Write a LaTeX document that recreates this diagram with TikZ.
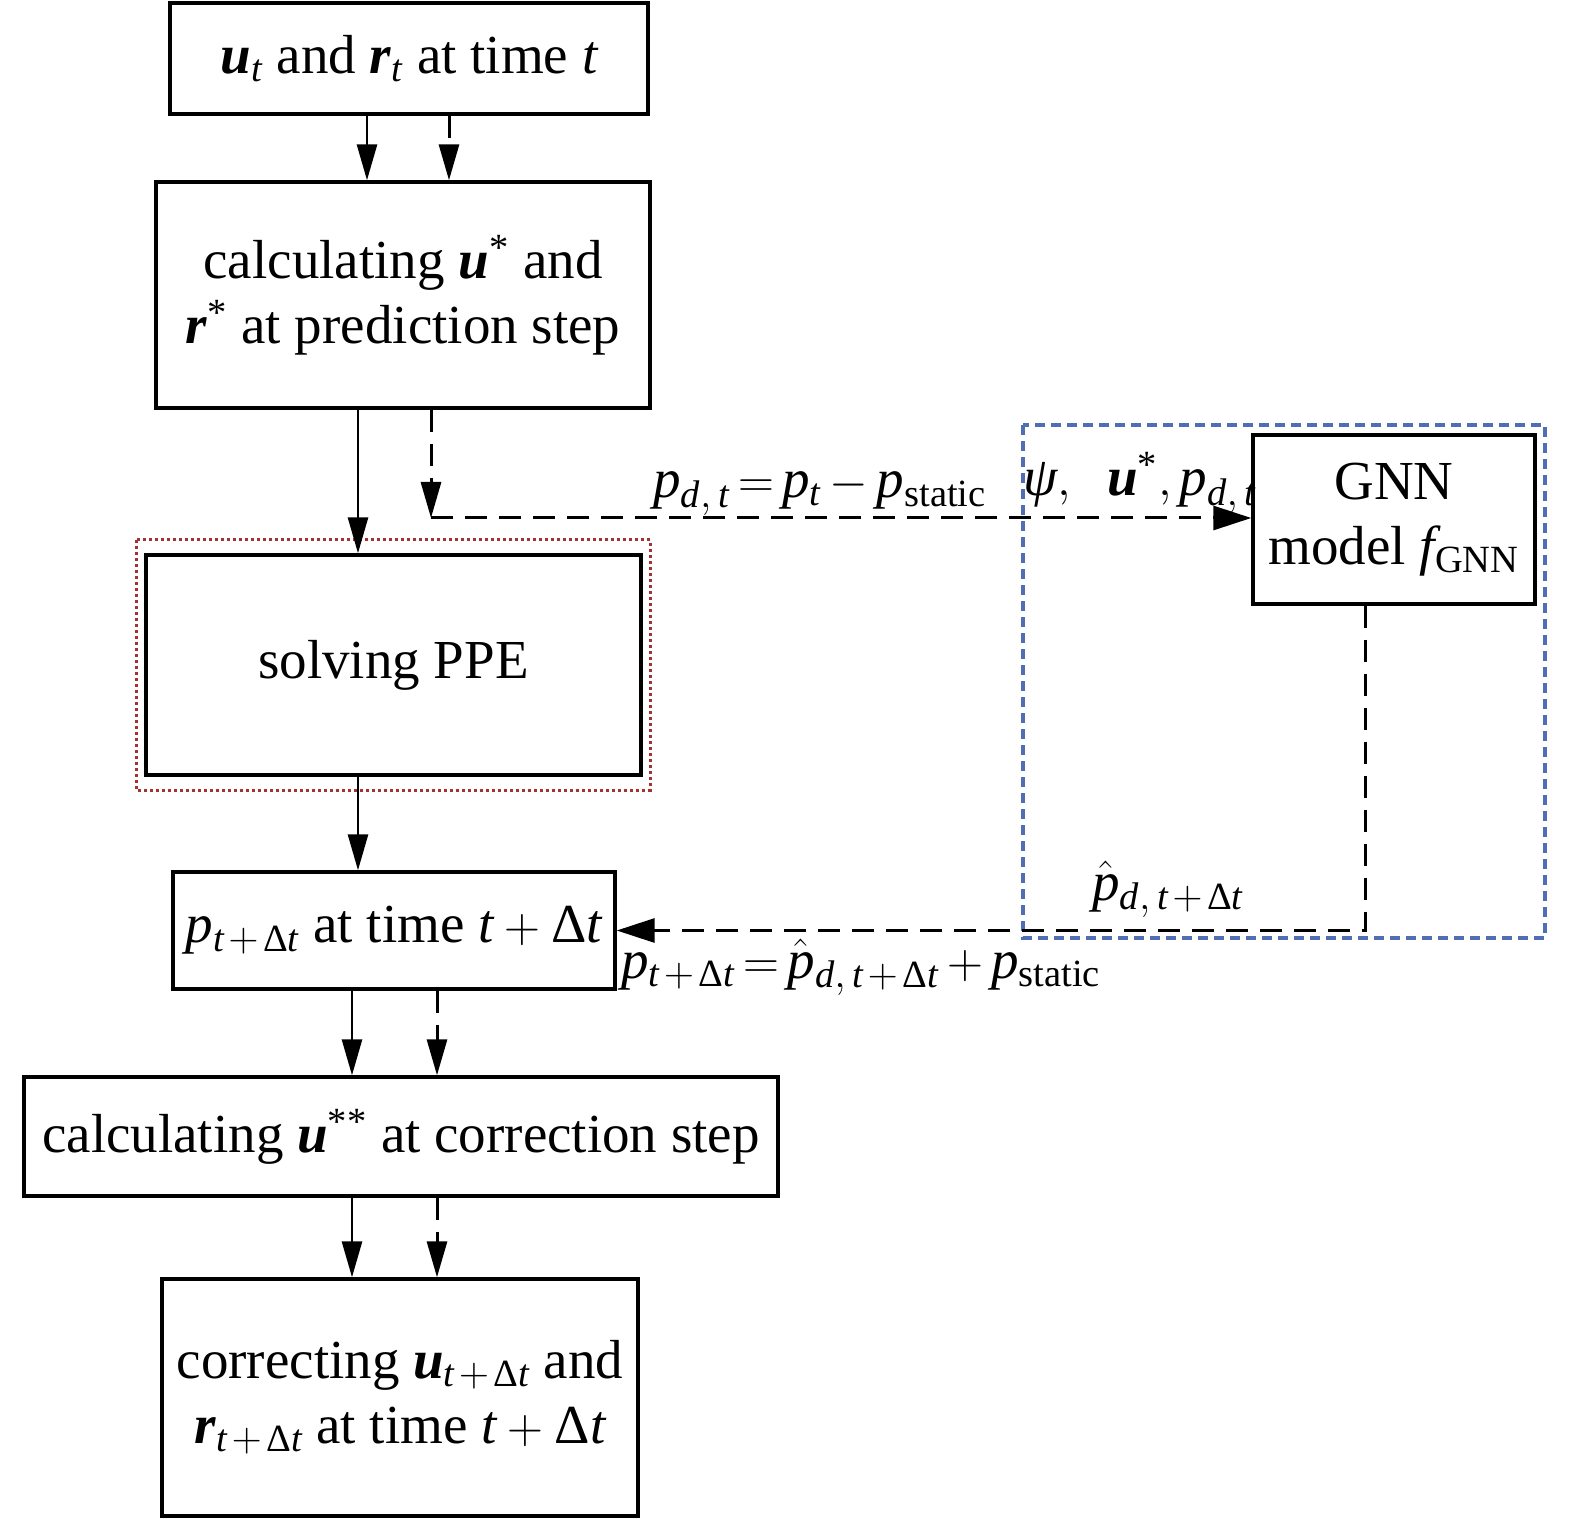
\documentclass[tikz,border=0pt]{standalone}
\usepackage{amsmath}
\usepackage{fontspec}
\setmainfont{Liberation Serif}
\usetikzlibrary{arrows.meta}
\newcommand\bvu{\textbf{\textit{u}}}
\newcommand\bvr{\textbf{\textit{r}}}
\newcommand\xp{\mathit{p}}
\newcommand\xt{\mathit{t}}
\newcommand\xd{\mathit{d}}
\newcommand\xf{\mathit{f}}
\newcommand\xD{\text{\upshape Δ}}
\newcommand\xpsi{\text{\itshape ψ}}
\newcommand\xst{\text{\upshape *}}
\newcommand\xtd{\xt\mskip2mu{+}\mskip2mu\xD\xt}
\definecolor{gnnblue}{RGB}{80,110,180}
\definecolor{ppered}{RGB}{165,50,50}
\tikzset{
  box/.style={draw, line width=1.7pt, inner sep=0pt, align=center, fill=white,
    font=\fontsize{27.5}{32.5}\selectfont},
  lbl/.style={inner sep=0pt, anchor=base, font=\fontsize{27.5}{32.5}\selectfont},
  tipA/.style={-{Triangle[length=18pt,width=10pt]}},
  tipB/.style={-{Triangle[length=19pt,width=12pt]}},
  sarr/.style={line width=1.4pt, tipA},
  darr/.style={line width=1.5pt, dash pattern=on 11pt off 6pt, tipA},
  harr/.style={line width=1.5pt, dash pattern=on 11pt off 6pt, tipB},
  bluebox/.style={draw=gnnblue, line width=1.6pt, dash pattern=on 5pt off 3pt},
  redbox/.style={draw=ppered, line width=1.5pt, dash pattern=on 1.5pt off 1.5pt},
}
\begin{document}
\begin{tikzpicture}[x=0.5pt,y=-0.5pt]
\useasboundingbox (0,0) rectangle (1575,1519);
% frames
\draw[bluebox] (1023,425) rectangle (1545,938);
\draw[redbox] (136,540) rectangle (650,790);
% boxes
\node[box, minimum width=239pt, minimum height=55.5pt] (A) at (409,58.5)
  {$\bvu_{\xt}$ and $\bvr_{\xt}$ at time $\xt$};
\node[box, minimum width=247pt, minimum height=113pt] (B) at (403,295)
  {calculating $\bvu^{\xst}$ and\\ $\bvr^{\xst}$ at prediction step};
\node[box, minimum width=247.5pt, minimum height=110pt] (C) at (393.5,665)
  {solving PPE};
\node[box, minimum width=221pt, minimum height=58.5pt] (D) at (394,930.5)
  {$\xp_{\xtd}$ at time $\xt+\xD\xt$};
\node[box, minimum width=377pt, minimum height=59.5pt] (E) at (401,1136.5)
  {\raisebox{-4pt}{calculating $\bvu^{\xst\xst}$ at correction step}};
\node[box, minimum width=238pt, minimum height=118.5pt] (F) at (400,1397.5)
  {correcting $\bvu_{\xtd}$ and\\ $\bvr_{\xtd}$ at time $\xt+\xD\xt$};
\node[box, minimum width=141pt, minimum height=84.5pt] (G) at (1394,519.5)
  {GNN\\ model $\xf_{\mathrm{GNN}}$};
% connectors
\draw[sarr] (367,0 |- A.south) -- (367,0 |- B.north);
\draw[darr] (449,0 |- A.south) -- (449,0 |- B.north);
\draw[sarr] (358,0 |- B.south) -- (358,0 |- C.north);
\coordinate (k1) at (431,518);
\draw[darr] (431,0 |- B.south) -- (k1);
\draw[harr] (k1) -- (G.west |- k1);
\draw[harr] (G.south -| 1365,0) |- (D.east);
\draw[sarr] (358,0 |- C.south) -- (358,0 |- D.north);
\draw[sarr] (352,0 |- D.south) -- (352,0 |- E.north);
\draw[darr] (437,0 |- D.south) -- (437,0 |- E.north);
\draw[sarr] (352,0 |- E.south) -- (352,0 |- F.north);
\draw[darr] (437,0 |- E.south) -- (437,0 |- F.north);
% labels
\node[lbl] (l1) at (820,498) {$\xp_{\xd,\,\xt}\,{=}\,\xp_{\xt}\,{-}\,\xp_{\mathrm{static}}$};
\node[lbl] (l2) at (1140,496) {$\xpsi,\;\;\bvu^{\xst},\xp_{\xd,\,\xt}$};
\node[lbl] (l3) at (1168,900) {$\hat{\xp}_{\xd,\,\xtd}$};
\node[lbl, anchor=base west] (l4) at (621,978) {$\xp_{\xtd}\,{=}\,\hat{\xp}_{\xd,\,\xtd}\,{+}\,\xp_{\mathrm{static}}$};
\end{tikzpicture}
\end{document}
